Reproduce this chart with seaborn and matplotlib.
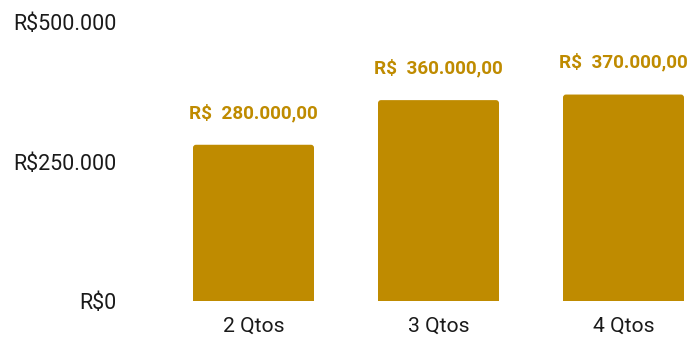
import matplotlib
matplotlib.use("Agg")
import matplotlib.pyplot as plt
from matplotlib.patches import FancyBboxPatch
import seaborn as sns
import pandas as pd

categories = ["2 Qtos", "3 Qtos", "4 Qtos"]
values = [280000, 360000, 370000]
value_labels = ["R$  280.000,00", "R$  360.000,00", "R$  370.000,00"]
y_ticks = [0, 250000, 500000]
y_tick_labels = ["R$0", "R$250.000", "R$500.000"]

gold = "#BF8B00"

sns.set_theme(style="white")
plt.rcParams["font.family"] = ["Roboto", "DejaVu Sans"]

W, H = 694, 343
fig = plt.figure(figsize=(W / 100, H / 100), dpi=100)
left_px, right_px, top_px, bottom_px = 125, 690, 22, 301
ax = fig.add_axes([left_px / W, 1 - bottom_px / H,
                   (right_px - left_px) / W, (bottom_px - top_px) / H])

df = pd.DataFrame({"cat": categories, "val": values})
bar_width = 0.654
sns.barplot(data=df, x="cat", y="val", color=gold, saturation=1,
            width=bar_width, ax=ax)

px_per_x = 185.0
xlim = ((left_px - 253.5) / px_per_x, (right_px - 253.5) / px_per_x)
ax.set_xlim(*xlim)
ax.set_ylim(0, 500000)

# swap plain bars for bars with softly rounded tops
x_unit_per_px = 1 / px_per_x
y_unit_per_px = 500000 / (bottom_px - top_px)
aspect = y_unit_per_px / x_unit_per_px
rad = 3 * x_unit_per_px
for p in list(ax.patches):
    x0, w, h = p.get_x(), p.get_width(), p.get_height()
    p.remove()
    fb = FancyBboxPatch((x0, -8000), w, h + 8000,
                        boxstyle=f"round,pad=0,rounding_size={rad}",
                        mutation_aspect=aspect, facecolor=gold,
                        edgecolor="none", clip_on=True)
    ax.add_patch(fb)

for i, (v, lab) in enumerate(zip(values, value_labels)):
    ax.annotate(lab, (i, v), xytext=(0, 23), textcoords="offset points",
                ha="center", va="center", color=gold, fontsize=13.6,
                fontweight="bold")

ax.set_yticks(y_ticks)
ax.set_yticklabels(y_tick_labels)
ax.tick_params(axis="y", length=0, pad=6.2, labelsize=15.5, labelcolor="#1a1a1a")
ax.tick_params(axis="x", length=0, pad=11, labelsize=15.2, labelcolor="#1a1a1a")
ax.set_xlabel("")
ax.set_ylabel("")
sns.despine(ax=ax, left=True, bottom=True)
ax.grid(False)

fig.savefig("out.png", dpi=100)
